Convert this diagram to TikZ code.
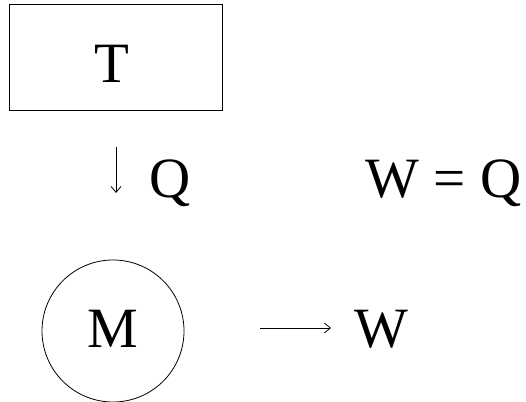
\documentclass[tikz,border=0pt]{standalone}
\usepackage{fontspec}
\setmainfont{Liberation Serif}
\usetikzlibrary{arrows.meta}
\begin{document}
\begin{tikzpicture}[x=1pt,y=1pt,
  lbl/.style={font=\fontsize{57}{64}\selectfont, inner sep=0pt, text height=37.7pt, text depth=0pt},
  arr/.style={line width=0.8pt, -{Straight Barb[length=6pt,width=10pt,line width=0.8pt]}}]
\useasboundingbox (0,0) rectangle (526,401);
\node[draw, line width=0.8pt, minimum width=213pt, minimum height=106pt, inner sep=0pt] (box) at (115.5,344) {};
\node[lbl] (T) at (111.5,337.5) {T};
\coordinate (a1) at (116,254);
\coordinate (a2) at (116,208);
\draw[arr] (a1) -- (a2);
\node[lbl] (Q) at (170,222) {Q};
\node[lbl] (WQ) at (443.5,222) {W = Q};
\node[draw, circle, line width=0.8pt, minimum size=142pt, inner sep=0pt] (M) at (113,70) {};
\node[lbl] (Mt) at (113,72.5) {M};
\coordinate (b1) at (260,73);
\coordinate (b2) at (331,73);
\draw[arr] (b1) -- (b2);
\node[lbl] (W) at (381,72) {W};
\end{tikzpicture}
\end{document}
